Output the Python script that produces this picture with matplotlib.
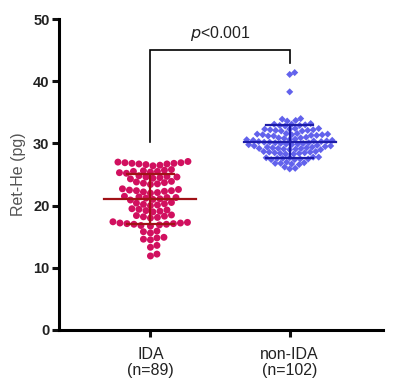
import numpy as np
import matplotlib
matplotlib.use("Agg")
import matplotlib.pyplot as plt

plt.rcParams["font.family"] = ["Liberation Sans", "DejaVu Sans"]

groups = ["IDA\n(n=89)", "non-IDA\n(n=102)"]

# Ret-He values (pg), row by row
ida = [
    27.1, 27.0, 26.9, 26.9, 26.8, 26.8, 26.7, 26.7, 26.6, 26.5, 26.4,
    25.8, 25.7, 25.6, 25.5, 25.5, 25.4, 25.3, 25.2,
    24.8, 24.7, 24.6, 24.6, 24.5, 24.4, 24.3,
    23.9, 23.8, 23.7, 23.6, 23.5, 23.4,
    22.7, 22.6, 22.5, 22.4, 22.4, 22.3, 22.2, 22.1, 22.0,
    21.5, 21.4, 21.3, 21.3, 21.2, 21.1, 21.0, 20.9,
    20.5, 20.4, 20.3, 20.2, 20.1, 20.0,
    19.5, 19.4, 19.3, 19.2, 19.1, 19.0,
    18.5, 18.4, 18.3, 18.2, 18.1, 18.0,
    17.4, 17.3, 17.2, 17.2, 17.1, 17.1, 17.0, 17.0, 16.9, 16.8, 16.7,
    15.9, 15.8, 15.6,
    14.9, 14.8, 14.6, 14.5,
    13.6, 13.3,
    12.2, 11.9,
]

non_ida = [
    41.4, 41.1, 38.3,
    34.0, 33.9, 33.7, 33.6,
    33.2, 33.1, 33.1, 33.0, 32.9, 32.9, 32.8,
    32.4, 32.4, 32.3, 32.3, 32.2, 32.2, 32.1, 32.1, 32.0, 32.0,
    31.6, 31.6, 31.5, 31.5, 31.4, 31.4, 31.4, 31.3, 31.3, 31.2, 31.2,
    31.0, 30.9, 30.9, 30.8, 30.7, 30.6, 30.6, 30.5, 30.5, 30.4, 30.4, 30.3, 30.3,
    30.2, 30.2, 30.1, 30.1, 30.0, 30.0, 29.9, 29.9, 29.8, 29.8, 29.7, 29.6, 29.6, 29.5,
    29.4, 29.4, 29.3, 29.3, 29.2, 29.2, 29.2, 29.1, 29.1, 29.0, 29.0,
    28.7, 28.7, 28.6, 28.6, 28.5, 28.5, 28.4, 28.4, 28.3, 28.3,
    27.8, 27.8, 27.7, 27.7, 27.6, 27.6, 27.5, 27.5, 27.4, 27.4,
    27.0, 26.9, 26.8, 26.8, 26.7, 26.6,
    26.2, 26.0, 25.9,
]

p_text = "<0.001"


def swarm_offsets(values, diam, step=0.5):
    # simple beeswarm in pixel space
    vals = np.asarray(values)
    order = np.argsort(vals)
    placed = []
    xs = np.zeros(len(vals))
    for i in order:
        y = vals[i]
        k = 0
        while True:
            for off in ([0.0] if k == 0 else [k * step, -k * step]):
                ok = all((off - px) ** 2 + (y - py) ** 2 >= diam ** 2 for px, py in placed)
                if ok:
                    break
            else:
                k += 1
                continue
            break
        xs[i] = off
        placed.append((off, y))
    return xs


fig = plt.figure(figsize=(4.03, 3.90), dpi=100)
ax = fig.add_axes([0.147, 0.154, 0.803, 0.797])
ax.set_xlim(0.345, 2.669)
ax.set_ylim(0, 50)

# pixel scales
bbox = ax.get_window_extent()
px_per_y = bbox.height / 50
px_per_x = bbox.width / (2.669 - 0.345)

styles = [
    dict(marker="o", color="#D1105F", line="#A01216", s=25, diam=6.7),
    dict(marker="D", color="#6262EC", line="#1C1CA8", s=13, diam=5.2),
]

for gi, (vals, st) in enumerate(zip([ida, non_ida], styles)):
    xc = gi + 1
    v = np.array(vals)
    off = swarm_offsets(v * px_per_y, st["diam"])
    ax.scatter(xc + off / px_per_x, v, marker=st["marker"], s=st["s"],
               color=st["color"], edgecolors="none", zorder=2, clip_on=False)
    m, sd = v.mean(), v.std(ddof=1)
    ax.plot([xc - 0.33, xc + 0.33], [m, m], color=st["line"], lw=1.6, zorder=3)
    ax.plot([xc, xc], [m - sd, m + sd], color=st["line"], lw=1.6, zorder=3)
    for yy in (m - sd, m + sd):
        ax.plot([xc - 0.17, xc + 0.17], [yy, yy], color=st["line"], lw=1.6, zorder=3)

# significance bracket
ax.plot([1, 1, 2, 2], [30.3, 45.0, 45.0, 42.9], color="black", lw=1.2,
        solid_joinstyle="miter", zorder=3)
ax.text(1.5, 47.0, r"$\it{p}$" + p_text, ha="center", va="baseline",
        fontsize=11.5, color="#222222")

for side in ["top", "right"]:
    ax.spines[side].set_visible(False)
for side in ["left", "bottom"]:
    ax.spines[side].set_linewidth(2.2)
ax.set_yticks(range(0, 51, 10))
ax.set_xticks([1, 2])
ax.set_xticklabels(groups, fontsize=11.5, color="#222222", linespacing=1.15)
ax.tick_params(axis="both", width=2.2, length=5, colors="#111111")
ax.tick_params(axis="y", labelsize=10.5, pad=2)
ax.tick_params(axis="x", pad=7)
for lab in ax.get_yticklabels():
    lab.set_color("#222222")
    lab.set_fontweight("bold")
for lab in ax.get_xticklabels():
    lab.set_color("#222222")
ax.set_ylabel("Ret-He (pg)", fontsize=11.5, color="#555555", labelpad=5)

fig.savefig("out.png", dpi=100)
